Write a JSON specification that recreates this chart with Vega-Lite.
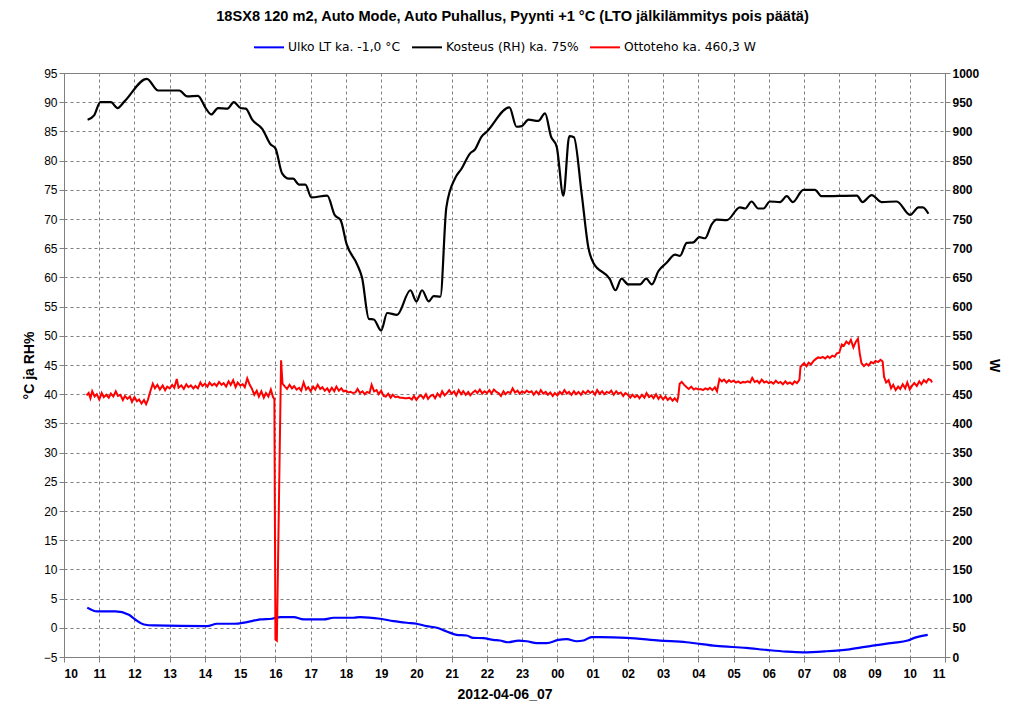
{
  "$schema": "https://vega.github.io/schema/vega-lite/v6.json",
  "width": 881,
  "height": 584,
  "autosize": {"type": "none"},
  "padding": {"left": 64, "top": 73, "right": 79, "bottom": 67},
  "background": "white",
  "title": {
    "text": "18SX8 120 m2, Auto Mode, Auto Puhallus, Pyynti +1 °C (LTO jälkilämmitys pois päätä)",
    "fontSize": 14.6,
    "fontWeight": "bold",
    "color": "#000000",
    "dx": 8,
    "offset": 7
  },
  "datasets": {
    "ulko": [
      {"t": 0.66, "v": 3.45}, {"t": 0.94, "v": 2.8}, {"t": 1.46, "v": 2.8}, {"t": 1.84, "v": 2.24},
      {"t": 2.03, "v": 1.38}, {"t": 2.27, "v": 0.57}, {"t": 2.55, "v": 0.4}, {"t": 4.06, "v": 0.29},
      {"t": 4.34, "v": 0.69}, {"t": 4.82, "v": 0.69}, {"t": 5.19, "v": 0.98}, {"t": 5.57, "v": 1.44},
      {"t": 5.9, "v": 1.55}, {"t": 6.14, "v": 1.84}, {"t": 6.52, "v": 1.84}, {"t": 6.8, "v": 1.44},
      {"t": 7.37, "v": 1.44}, {"t": 7.65, "v": 1.72}, {"t": 8.22, "v": 1.72}, {"t": 8.4, "v": 1.84},
      {"t": 8.97, "v": 1.55}, {"t": 9.35, "v": 1.15}, {"t": 9.73, "v": 0.86}, {"t": 10.0, "v": 0.69},
      {"t": 10.29, "v": 0.29}, {"t": 10.58, "v": 0}, {"t": 10.86, "v": -0.63}, {"t": 11.14, "v": -1.2},
      {"t": 11.43, "v": -1.32}, {"t": 11.61, "v": -1.72}, {"t": 11.9, "v": -1.78}, {"t": 12.18, "v": -2.07},
      {"t": 12.37, "v": -2.18}, {"t": 12.61, "v": -2.47}, {"t": 12.9, "v": -2.18}, {"t": 13.13, "v": -2.3},
      {"t": 13.42, "v": -2.64}, {"t": 13.7, "v": -2.64}, {"t": 14.03, "v": -2.07}, {"t": 14.27, "v": -1.95},
      {"t": 14.55, "v": -2.3}, {"t": 14.74, "v": -2.18}, {"t": 14.97, "v": -1.61}, {"t": 15.21, "v": -1.61},
      {"t": 15.97, "v": -1.72}, {"t": 16.91, "v": -2.18}, {"t": 17.66, "v": -2.47}, {"t": 18.51, "v": -3.1},
      {"t": 19.36, "v": -3.45}, {"t": 19.93, "v": -3.79}, {"t": 20.5, "v": -4.08}, {"t": 20.97, "v": -4.2},
      {"t": 21.63, "v": -4.02}, {"t": 22.29, "v": -3.68}, {"t": 22.95, "v": -3.05}, {"t": 23.52, "v": -2.59},
      {"t": 23.94, "v": -2.18}, {"t": 24.13, "v": -1.72}, {"t": 24.51, "v": -1.2}
    ],
    "kosteus": [
      {"t": 0.67, "v": 87}, {"t": 0.86, "v": 87.8}, {"t": 1.03, "v": 90}, {"t": 1.33, "v": 90},
      {"t": 1.52, "v": 89}, {"t": 1.71, "v": 90.1}, {"t": 2.35, "v": 94}, {"t": 2.67, "v": 92},
      {"t": 3.27, "v": 92}, {"t": 3.5, "v": 91}, {"t": 3.8, "v": 91.1}, {"t": 4.02, "v": 89},
      {"t": 4.18, "v": 87.9}, {"t": 4.37, "v": 89}, {"t": 4.64, "v": 88.9}, {"t": 4.82, "v": 90},
      {"t": 5.01, "v": 89}, {"t": 5.16, "v": 88.9}, {"t": 5.34, "v": 87}, {"t": 5.63, "v": 85.4},
      {"t": 5.86, "v": 82.8}, {"t": 6.0, "v": 82.1}, {"t": 6.19, "v": 77.8}, {"t": 6.38, "v": 76.9},
      {"t": 6.5, "v": 76.9}, {"t": 6.67, "v": 75.9}, {"t": 6.85, "v": 75.9}, {"t": 7.02, "v": 73.7},
      {"t": 7.47, "v": 74}, {"t": 7.68, "v": 70.7}, {"t": 7.85, "v": 69.8}, {"t": 8.02, "v": 65.7},
      {"t": 8.32, "v": 62.2}, {"t": 8.46, "v": 59.9}, {"t": 8.65, "v": 52.9}, {"t": 8.79, "v": 52.8},
      {"t": 9.0, "v": 50.9}, {"t": 9.17, "v": 53.9}, {"t": 9.45, "v": 53.6}, {"t": 9.83, "v": 57.8},
      {"t": 10.0, "v": 55.9}, {"t": 10.16, "v": 57.8}, {"t": 10.35, "v": 55.9}, {"t": 10.49, "v": 56.8},
      {"t": 10.68, "v": 56.7}, {"t": 10.85, "v": 72}, {"t": 11.1, "v": 77}, {"t": 11.28, "v": 78.6},
      {"t": 11.52, "v": 81.2}, {"t": 11.66, "v": 81.9}, {"t": 11.85, "v": 84.1}, {"t": 11.99, "v": 84.9},
      {"t": 12.64, "v": 89.1}, {"t": 12.84, "v": 85.8}, {"t": 12.99, "v": 85.9}, {"t": 13.18, "v": 87},
      {"t": 13.46, "v": 86.8}, {"t": 13.65, "v": 88.1}, {"t": 13.82, "v": 84.1}, {"t": 13.98, "v": 82.4},
      {"t": 14.17, "v": 74}, {"t": 14.34, "v": 84.2}, {"t": 14.47, "v": 84}, {"t": 14.69, "v": 74.3},
      {"t": 14.88, "v": 65.1}, {"t": 15.02, "v": 62.5}, {"t": 15.49, "v": 59.7}, {"t": 15.65, "v": 57.8},
      {"t": 15.82, "v": 59.8}, {"t": 16.01, "v": 58.8}, {"t": 16.35, "v": 58.8}, {"t": 16.52, "v": 59.8},
      {"t": 16.68, "v": 58.8}, {"t": 16.87, "v": 61.1}, {"t": 17.1, "v": 62.5}, {"t": 17.34, "v": 63.9},
      {"t": 17.48, "v": 63.7}, {"t": 17.67, "v": 65.9}, {"t": 17.86, "v": 66}, {"t": 18.03, "v": 66.9},
      {"t": 18.19, "v": 66.7}, {"t": 18.38, "v": 69.1}, {"t": 18.52, "v": 69.9}, {"t": 18.81, "v": 69.8},
      {"t": 19.18, "v": 72}, {"t": 19.33, "v": 71.8}, {"t": 19.51, "v": 73}, {"t": 19.7, "v": 71.8},
      {"t": 19.85, "v": 71.8}, {"t": 20.03, "v": 73}, {"t": 20.32, "v": 72.9}, {"t": 20.51, "v": 73.9},
      {"t": 20.68, "v": 72.9}, {"t": 20.98, "v": 75}, {"t": 21.31, "v": 75}, {"t": 21.5, "v": 73.9},
      {"t": 22.5, "v": 74}, {"t": 22.66, "v": 72.9}, {"t": 22.92, "v": 74.1}, {"t": 23.2, "v": 72.9},
      {"t": 23.63, "v": 73}, {"t": 24.01, "v": 70.7}, {"t": 24.25, "v": 72}, {"t": 24.37, "v": 72},
      {"t": 24.53, "v": 70.9}
    ],
    "ottoteho": [
      {"t": 0.64, "v": 448}, {"t": 0.7, "v": 452}, {"t": 0.75, "v": 443}, {"t": 0.8, "v": 455}, {"t": 0.87, "v": 446},
      {"t": 0.93, "v": 450}, {"t": 1.0, "v": 441}, {"t": 1.07, "v": 452}, {"t": 1.13, "v": 445}, {"t": 1.2, "v": 449},
      {"t": 1.27, "v": 444}, {"t": 1.33, "v": 451}, {"t": 1.4, "v": 446}, {"t": 1.47, "v": 455}, {"t": 1.53, "v": 447},
      {"t": 1.6, "v": 449}, {"t": 1.67, "v": 440}, {"t": 1.73, "v": 447}, {"t": 1.8, "v": 442}, {"t": 1.87, "v": 446},
      {"t": 1.93, "v": 437}, {"t": 2.0, "v": 445}, {"t": 2.07, "v": 438}, {"t": 2.13, "v": 441}, {"t": 2.2, "v": 434},
      {"t": 2.27, "v": 440}, {"t": 2.33, "v": 433}, {"t": 2.38, "v": 440}, {"t": 2.45, "v": 455}, {"t": 2.52, "v": 468},
      {"t": 2.58, "v": 460}, {"t": 2.65, "v": 466}, {"t": 2.72, "v": 458}, {"t": 2.8, "v": 465}, {"t": 2.87, "v": 457},
      {"t": 2.93, "v": 463}, {"t": 3.0, "v": 460}, {"t": 3.07, "v": 466}, {"t": 3.13, "v": 461}, {"t": 3.2, "v": 476},
      {"t": 3.25, "v": 461}, {"t": 3.33, "v": 465}, {"t": 3.4, "v": 459}, {"t": 3.47, "v": 467}, {"t": 3.53, "v": 462},
      {"t": 3.6, "v": 465}, {"t": 3.67, "v": 460}, {"t": 3.73, "v": 464}, {"t": 3.8, "v": 460}, {"t": 3.87, "v": 470},
      {"t": 3.93, "v": 464}, {"t": 4.0, "v": 468}, {"t": 4.07, "v": 463}, {"t": 4.13, "v": 470}, {"t": 4.2, "v": 465},
      {"t": 4.27, "v": 468}, {"t": 4.33, "v": 464}, {"t": 4.4, "v": 471}, {"t": 4.47, "v": 466}, {"t": 4.53, "v": 469},
      {"t": 4.6, "v": 463}, {"t": 4.67, "v": 472}, {"t": 4.73, "v": 466}, {"t": 4.8, "v": 474}, {"t": 4.87, "v": 462},
      {"t": 4.93, "v": 470}, {"t": 5.0, "v": 465}, {"t": 5.07, "v": 467}, {"t": 5.13, "v": 462}, {"t": 5.2, "v": 477},
      {"t": 5.27, "v": 466}, {"t": 5.33, "v": 460}, {"t": 5.4, "v": 449}, {"t": 5.47, "v": 456}, {"t": 5.53, "v": 446},
      {"t": 5.6, "v": 455}, {"t": 5.67, "v": 444}, {"t": 5.73, "v": 452}, {"t": 5.8, "v": 446}, {"t": 5.87, "v": 458},
      {"t": 5.93, "v": 445}, {"t": 5.97, "v": 442}, {"t": 6.0, "v": 30}, {"t": 6.04, "v": 28}, {"t": 6.16, "v": 508},
      {"t": 6.2, "v": 468}, {"t": 6.27, "v": 463}, {"t": 6.33, "v": 459}, {"t": 6.4, "v": 466}, {"t": 6.47, "v": 460},
      {"t": 6.53, "v": 464}, {"t": 6.6, "v": 458}, {"t": 6.67, "v": 461}, {"t": 6.73, "v": 456}, {"t": 6.8, "v": 470},
      {"t": 6.87, "v": 458}, {"t": 6.93, "v": 462}, {"t": 7.0, "v": 455}, {"t": 7.07, "v": 463}, {"t": 7.13, "v": 458},
      {"t": 7.2, "v": 466}, {"t": 7.27, "v": 459}, {"t": 7.33, "v": 462}, {"t": 7.4, "v": 456}, {"t": 7.47, "v": 460},
      {"t": 7.53, "v": 454}, {"t": 7.6, "v": 461}, {"t": 7.67, "v": 455}, {"t": 7.73, "v": 463}, {"t": 7.8, "v": 456},
      {"t": 7.87, "v": 460}, {"t": 7.93, "v": 455}, {"t": 8.0, "v": 456}, {"t": 8.07, "v": 453}, {"t": 8.13, "v": 454},
      {"t": 8.2, "v": 452}, {"t": 8.27, "v": 453}, {"t": 8.33, "v": 459}, {"t": 8.4, "v": 452}, {"t": 8.47, "v": 455},
      {"t": 8.53, "v": 450}, {"t": 8.6, "v": 454}, {"t": 8.67, "v": 452}, {"t": 8.73, "v": 466}, {"t": 8.8, "v": 455},
      {"t": 8.87, "v": 457}, {"t": 8.93, "v": 450}, {"t": 9.0, "v": 456}, {"t": 9.07, "v": 447}, {"t": 9.13, "v": 446},
      {"t": 9.2, "v": 451}, {"t": 9.27, "v": 444}, {"t": 9.33, "v": 449}, {"t": 9.4, "v": 445}, {"t": 9.47, "v": 446},
      {"t": 9.53, "v": 444}, {"t": 9.6, "v": 444}, {"t": 9.67, "v": 443}, {"t": 9.73, "v": 443}, {"t": 9.8, "v": 444},
      {"t": 9.87, "v": 441}, {"t": 9.93, "v": 447}, {"t": 10.0, "v": 440}, {"t": 10.07, "v": 446}, {"t": 10.13, "v": 448},
      {"t": 10.2, "v": 443}, {"t": 10.27, "v": 450}, {"t": 10.33, "v": 442}, {"t": 10.4, "v": 447}, {"t": 10.47, "v": 449},
      {"t": 10.53, "v": 443}, {"t": 10.6, "v": 451}, {"t": 10.67, "v": 446}, {"t": 10.73, "v": 455}, {"t": 10.8, "v": 448},
      {"t": 10.87, "v": 452}, {"t": 10.93, "v": 457}, {"t": 11.0, "v": 451}, {"t": 11.07, "v": 455}, {"t": 11.13, "v": 448},
      {"t": 11.2, "v": 457}, {"t": 11.27, "v": 450}, {"t": 11.33, "v": 455}, {"t": 11.4, "v": 449}, {"t": 11.47, "v": 454},
      {"t": 11.53, "v": 448}, {"t": 11.6, "v": 453}, {"t": 11.67, "v": 456}, {"t": 11.73, "v": 452}, {"t": 11.8, "v": 458},
      {"t": 11.87, "v": 451}, {"t": 11.93, "v": 455}, {"t": 12.0, "v": 452}, {"t": 12.07, "v": 457}, {"t": 12.13, "v": 451},
      {"t": 12.2, "v": 458}, {"t": 12.27, "v": 454}, {"t": 12.33, "v": 452}, {"t": 12.4, "v": 447}, {"t": 12.47, "v": 455},
      {"t": 12.53, "v": 450}, {"t": 12.6, "v": 454}, {"t": 12.67, "v": 452}, {"t": 12.73, "v": 460}, {"t": 12.8, "v": 453},
      {"t": 12.87, "v": 456}, {"t": 12.93, "v": 451}, {"t": 13.0, "v": 455}, {"t": 13.07, "v": 452}, {"t": 13.13, "v": 456},
      {"t": 13.2, "v": 453}, {"t": 13.27, "v": 455}, {"t": 13.33, "v": 449}, {"t": 13.4, "v": 455}, {"t": 13.47, "v": 450},
      {"t": 13.53, "v": 457}, {"t": 13.6, "v": 451}, {"t": 13.67, "v": 454}, {"t": 13.73, "v": 449}, {"t": 13.8, "v": 453},
      {"t": 13.87, "v": 447}, {"t": 13.93, "v": 452}, {"t": 14.0, "v": 448}, {"t": 14.07, "v": 454}, {"t": 14.13, "v": 450},
      {"t": 14.2, "v": 457}, {"t": 14.27, "v": 451}, {"t": 14.33, "v": 454}, {"t": 14.4, "v": 449}, {"t": 14.47, "v": 455},
      {"t": 14.53, "v": 450}, {"t": 14.6, "v": 454}, {"t": 14.67, "v": 449}, {"t": 14.73, "v": 455}, {"t": 14.8, "v": 451},
      {"t": 14.87, "v": 456}, {"t": 14.93, "v": 452}, {"t": 15.0, "v": 455}, {"t": 15.07, "v": 449}, {"t": 15.13, "v": 457},
      {"t": 15.2, "v": 451}, {"t": 15.27, "v": 455}, {"t": 15.33, "v": 450}, {"t": 15.4, "v": 454}, {"t": 15.47, "v": 452},
      {"t": 15.53, "v": 456}, {"t": 15.6, "v": 449}, {"t": 15.67, "v": 455}, {"t": 15.73, "v": 451}, {"t": 15.8, "v": 453},
      {"t": 15.87, "v": 447}, {"t": 15.93, "v": 452}, {"t": 16.0, "v": 449}, {"t": 16.07, "v": 444}, {"t": 16.13, "v": 449},
      {"t": 16.2, "v": 445}, {"t": 16.27, "v": 448}, {"t": 16.33, "v": 443}, {"t": 16.4, "v": 449}, {"t": 16.47, "v": 444},
      {"t": 16.53, "v": 452}, {"t": 16.6, "v": 445}, {"t": 16.67, "v": 448}, {"t": 16.73, "v": 443}, {"t": 16.8, "v": 450},
      {"t": 16.87, "v": 442}, {"t": 16.93, "v": 447}, {"t": 17.0, "v": 441}, {"t": 17.07, "v": 446}, {"t": 17.13, "v": 440},
      {"t": 17.2, "v": 444}, {"t": 17.27, "v": 439}, {"t": 17.33, "v": 443}, {"t": 17.4, "v": 438}, {"t": 17.43, "v": 445},
      {"t": 17.47, "v": 468}, {"t": 17.53, "v": 471}, {"t": 17.6, "v": 466}, {"t": 17.67, "v": 462}, {"t": 17.73, "v": 459},
      {"t": 17.8, "v": 463}, {"t": 17.87, "v": 458}, {"t": 17.93, "v": 460}, {"t": 18.0, "v": 458}, {"t": 18.07, "v": 459},
      {"t": 18.13, "v": 457}, {"t": 18.2, "v": 460}, {"t": 18.27, "v": 458}, {"t": 18.33, "v": 461}, {"t": 18.4, "v": 457},
      {"t": 18.47, "v": 462}, {"t": 18.53, "v": 455}, {"t": 18.6, "v": 476}, {"t": 18.67, "v": 472}, {"t": 18.73, "v": 475},
      {"t": 18.8, "v": 470}, {"t": 18.87, "v": 474}, {"t": 18.93, "v": 471}, {"t": 19.0, "v": 473}, {"t": 19.07, "v": 470},
      {"t": 19.13, "v": 472}, {"t": 19.2, "v": 469}, {"t": 19.27, "v": 471}, {"t": 19.33, "v": 470}, {"t": 19.4, "v": 472},
      {"t": 19.47, "v": 470}, {"t": 19.53, "v": 478}, {"t": 19.6, "v": 471}, {"t": 19.67, "v": 473}, {"t": 19.73, "v": 469},
      {"t": 19.8, "v": 475}, {"t": 19.87, "v": 470}, {"t": 19.93, "v": 472}, {"t": 20.0, "v": 469}, {"t": 20.07, "v": 471},
      {"t": 20.13, "v": 468}, {"t": 20.2, "v": 473}, {"t": 20.27, "v": 469}, {"t": 20.33, "v": 471}, {"t": 20.4, "v": 467},
      {"t": 20.47, "v": 472}, {"t": 20.53, "v": 468}, {"t": 20.6, "v": 470}, {"t": 20.67, "v": 467}, {"t": 20.73, "v": 472},
      {"t": 20.8, "v": 469}, {"t": 20.87, "v": 475}, {"t": 20.9, "v": 497}, {"t": 20.95, "v": 500}, {"t": 21.0, "v": 503},
      {"t": 21.07, "v": 498}, {"t": 21.13, "v": 504}, {"t": 21.2, "v": 501}, {"t": 21.27, "v": 507}, {"t": 21.33, "v": 510},
      {"t": 21.4, "v": 513}, {"t": 21.47, "v": 512}, {"t": 21.53, "v": 514}, {"t": 21.6, "v": 511}, {"t": 21.67, "v": 515},
      {"t": 21.73, "v": 512}, {"t": 21.8, "v": 516}, {"t": 21.87, "v": 514}, {"t": 21.93, "v": 520}, {"t": 22.0, "v": 521},
      {"t": 22.07, "v": 535}, {"t": 22.13, "v": 533}, {"t": 22.2, "v": 540}, {"t": 22.27, "v": 536}, {"t": 22.33, "v": 543},
      {"t": 22.4, "v": 530}, {"t": 22.47, "v": 540}, {"t": 22.53, "v": 545}, {"t": 22.58, "v": 520}, {"t": 22.63, "v": 503},
      {"t": 22.7, "v": 498}, {"t": 22.77, "v": 502}, {"t": 22.83, "v": 499}, {"t": 22.9, "v": 505}, {"t": 22.97, "v": 503},
      {"t": 23.03, "v": 507}, {"t": 23.1, "v": 505}, {"t": 23.17, "v": 509}, {"t": 23.23, "v": 506}, {"t": 23.27, "v": 480},
      {"t": 23.33, "v": 470}, {"t": 23.4, "v": 474}, {"t": 23.47, "v": 460}, {"t": 23.53, "v": 466}, {"t": 23.6, "v": 457},
      {"t": 23.67, "v": 463}, {"t": 23.73, "v": 459}, {"t": 23.8, "v": 467}, {"t": 23.87, "v": 460}, {"t": 23.93, "v": 470},
      {"t": 24.0, "v": 458}, {"t": 24.07, "v": 465}, {"t": 24.13, "v": 469}, {"t": 24.2, "v": 464}, {"t": 24.27, "v": 472},
      {"t": 24.33, "v": 467}, {"t": 24.4, "v": 474}, {"t": 24.47, "v": 470}, {"t": 24.53, "v": 476}, {"t": 24.6, "v": 474},
      {"t": 24.63, "v": 470}
    ]
  },
  "encoding": {
    "x": {
      "field": "t",
      "type": "quantitative",
      "scale": {"domain": [0, 25], "nice": false, "zero": false},
      "axis": {
        "values": [0, 1, 2, 3, 4, 5, 6, 7, 8, 9, 10, 11, 12, 13, 14, 15, 16, 17, 18, 19, 20, 21, 22, 23, 24, 25],
        "labelExpr": "((datum.value + 10) % 24 < 10 ? '0' : '') + ((datum.value + 10) % 24)",
        "title": "2012-04-06_07",
        "grid": true,
        "labelFontWeight": "bold",
        "labelPadding": 6,
        "titlePadding": 8
      }
    },
    "color": {
      "type": "nominal",
      "scale": {
        "domain": ["Ulko LT ka. -1,0 °C", "Kosteus (RH) ka. 75%", "Ottoteho ka. 460,3 W"],
        "range": ["#0000ff", "#000000", "#ff0000"]
      },
      "legend": {
        "orient": "none",
        "legendX": 189,
        "legendY": -42,
        "direction": "horizontal",
        "title": null,
        "symbolType": "stroke",
        "symbolSize": 900,
        "symbolStrokeWidth": 2,
        "labelFont": "DejaVu Sans",
        "labelFontSize": 12.3,
        "labelOffset": 3,
        "columnPadding": 7
      }
    }
  },
  "layer": [
    {
      "encoding": {
        "y": {
          "field": "v",
          "type": "quantitative",
          "scale": {"domain": [-5, 95], "nice": false, "zero": false},
          "axis": {
            "values": [-5, 0, 5, 10, 15, 20, 25, 30, 35, 40, 45, 50, 55, 60, 65, 70, 75, 80, 85, 90, 95],
            "title": "°C ja RH%",
            "grid": true,
            "titlePadding": 7
          }
        }
      },
      "layer": [
        {
          "data": {"name": "ulko"},
          "mark": {"type": "line", "interpolate": "monotone", "strokeWidth": 2.2},
          "encoding": {"color": {"datum": "Ulko LT ka. -1,0 °C"}}
        },
        {
          "data": {"name": "kosteus"},
          "mark": {"type": "line", "interpolate": "monotone", "strokeWidth": 2.2},
          "encoding": {"color": {"datum": "Kosteus (RH) ka. 75%"}}
        }
      ]
    },
    {
      "data": {"name": "ottoteho"},
      "mark": {"type": "line", "strokeWidth": 2},
      "encoding": {
        "y": {
          "field": "v",
          "type": "quantitative",
          "scale": {"domain": [0, 1000], "nice": false, "zero": false},
          "axis": {
            "orient": "right",
            "values": [0, 50, 100, 150, 200, 250, 300, 350, 400, 450, 500, 550, 600, 650, 700, 750, 800, 850, 900, 950, 1000],
            "format": "d",
            "title": "W",
            "grid": false,
            "labelFontWeight": "bold",
            "titlePadding": 8
          }
        },
        "color": {"datum": "Ottoteho ka. 460,3 W"}
      }
    }
  ],
  "resolve": {"scale": {"y": "independent"}},
  "config": {
    "font": "Liberation Sans",
    "view": {"stroke": "#808080", "strokeWidth": 1},
    "axis": {
      "domainColor": "#808080",
      "tickColor": "#808080",
      "tickSize": 5,
      "gridColor": "#808080",
      "gridDash": [3, 3],
      "gridOpacity": 1,
      "labelColor": "#000000",
      "labelFontSize": 12,
      "titleColor": "#000000",
      "titleFontSize": 14,
      "titleFontWeight": "bold"
    },
    "legend": {"labelColor": "#000000"}
  }
}
